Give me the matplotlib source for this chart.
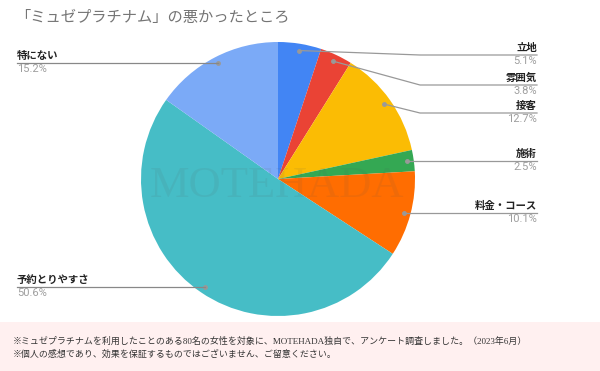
import numpy as np
import matplotlib
matplotlib.use("Agg")
import matplotlib.pyplot as plt
from matplotlib.patches import Rectangle

plt.rcParams['font.family'] = ['Noto Sans CJK JP', 'DejaVu Sans']

title = "「ミュゼプラチナム」の悪かったところ"
categories = ["立地", "雰囲気", "接客", "施術", "料金・コース", "予約とりやすさ", "特にない"]
values = [5.1, 3.8, 12.7, 2.5, 10.1, 50.6, 15.2]
pct_labels = ["5.1%", "3.8%", "12.7%", "2.5%", "10.1%", "50.6%", "15.2%"]
colors = ["#4285f4", "#ea4335", "#fbbc04", "#34a853", "#ff6d01", "#46bdc6", "#7baaf7"]
# label line y (pixels from top) for each slice
label_y = [55, 85, 113, 161, 213, 287, 63]
label_side = ["r", "r", "r", "r", "r", "l", "l"]
footer = ["※ミュゼプラチナムを利用したことのある80名の女性を対象に、MOTEHADA独自で、アンケート調査しました。（2023年6月）",
          "※個人の感想であり、効果を保証するものではございません、ご留意ください。"]

W, H = 600, 371
fig = plt.figure(figsize=(W / 100, H / 100), dpi=100)
ax = fig.add_axes([0, 0, 1, 1])
ax.set_xlim(0, W)
ax.set_ylim(0, H)
ax.set_aspect('equal')
ax.axis('off')

def Y(py):
    return H - py

cx, cy, R = 278, 179, 137
wedges, _ = ax.pie(values, colors=colors, startangle=90, counterclock=False,
                   center=(cx, Y(cy)), radius=R, wedgeprops=dict(linewidth=0))
ax.set_xlim(0, W)
ax.set_ylim(0, H)

# watermark
ax.text(cx - 1, Y(186), "MOTEHADA", family="Liberation Serif", fontsize=32,
        color="#555555", alpha=0.09, ha="center", va="center", zorder=5)

# labels
total = sum(values)
cum = 0
xr_end, x_elbow, xl_start = 537, 420, 17
for i, v in enumerate(values):
    mid = (cum + v / 2) / total * 360
    cum += v
    ang = np.deg2rad(90 - mid)
    dx = cx + 0.95 * R * np.cos(ang)
    dy = Y(cy) + 0.95 * R * np.sin(ang)
    ly = Y(label_y[i])
    ax.plot([dx], [dy], 'o', color="#999999", ms=2.5, zorder=6)
    if label_side[i] == "r":
        if abs(dy - ly) > 1.5:
            ax.plot([dx, x_elbow, xr_end], [dy, ly, ly], color="#999999", lw=0.9, zorder=6)
        else:
            ax.plot([dx, xr_end], [ly, ly], color="#999999", lw=0.9, zorder=6)
        ax.text(xr_end, ly + 2, categories[i], ha="right", va="bottom", fontsize=7.5,
                color="#222222", fontweight="bold")
        ax.text(xr_end, ly - 1.5, pct_labels[i], ha="right", va="top", fontsize=8,
                color="#9e9e9e", family="Roboto")
    else:
        ax.plot([xl_start, dx], [ly, ly], color="#888888", lw=0.9, zorder=6)
        ax.text(xl_start, ly + 2, categories[i], ha="left", va="bottom", fontsize=7.5,
                color="#222222", fontweight="bold")
        ax.text(xl_start, ly - 1.5, pct_labels[i], ha="left", va="top", fontsize=8,
                color="#9e9e9e", family="Roboto")

# title
ax.text(15, Y(17), title, ha="left", va="center", fontsize=11, color="#757575")

# footer
ax.add_patch(Rectangle((0, 0), W, Y(322), facecolor="#fff0f0", edgecolor="none", zorder=0))
ffam = ['Liberation Serif', 'Noto Sans CJK JP']
ax.text(13, Y(341), footer[0], ha="left", va="center", fontsize=6.45, color="#333333", family=ffam)
ax.text(13, Y(354), footer[1], ha="left", va="center", fontsize=6.45, color="#333333", family=ffam)

fig.savefig("out.png", dpi=100)
